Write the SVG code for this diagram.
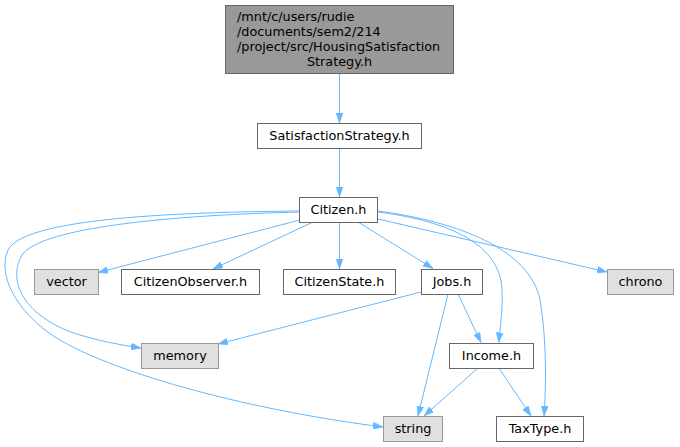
<svg xmlns="http://www.w3.org/2000/svg" width="680" height="447" viewBox="0 0 680 447">
<defs>
<style>
.n rect{fill:#ffffff;stroke:#666666;stroke-width:1}
.n.g rect{fill:#e0e0e0;stroke:#999999}
.n.top rect{fill:#999999;stroke:#666666}
text{font-family:"DejaVu Sans","Liberation Sans",sans-serif;font-size:12.8px;fill:#000000}
.c{text-anchor:middle}
#edges path{fill:none;stroke:#63b8ff;stroke-width:1;marker-end:url(#ah)}
</style>
<marker id="ah" viewBox="0 0 10 7" refX="10" refY="3.5" markerWidth="10" markerHeight="7" markerUnits="userSpaceOnUse" orient="auto">
<path d="M0,0 L10,3.5 L0,7 Z" fill="#63b8ff" stroke="#63b8ff" stroke-width="0.5"/>
</marker>
</defs>
<rect width="680" height="447" fill="#ffffff"/>
<g id="edges">
<path d="M339.5,73.5 V123"/>
<path d="M339.5,148.5 V197"/>
<path d="M300,220 L98,272.5"/>
<path d="M313,222 L213,269"/>
<path d="M339.5,222 V269"/>
<path d="M358,222 L433,268.5"/>
<path d="M378,219 L607,272"/>
<path d="M378,212 C440,220 500,240 502,290 C503,310 500,325 499,342.5"/>
<path d="M378,211 C460,222 530,250 540,300 C547,340 546,390 544,416"/>
<path d="M299,212 C220,214 45,222 22,255 C5,285 30,320 80,335 C100,341 120,345 141,348"/>
<path d="M299,211 C210,212 25,215 8,250 C-5,280 25,320 60,340 C120,375 250,410 383,427"/>
<path d="M421,292 L218,344"/>
<path d="M448,294 L418,416"/>
<path d="M458,294 L481,342.5"/>
<path d="M478,368 L424,416"/>
<path d="M499,368 L531,416"/>
</g>
<g id="node-top" class="n top">
<rect x="225.5" y="5.5" width="228" height="68"/>
<text x="237" y="21">/mnt/c/users/rudie</text>
<text x="237" y="36">/documents/sem2/214</text>
<text x="237" y="51">/project/src/HousingSatisfaction</text>
<text x="339.5" y="65.5" class="c">Strategy.h</text>
</g>
<g id="node-satisfaction" class="n">
<rect x="257.5" y="123.5" width="164" height="25"/>
<text x="339.5" y="140" class="c">SatisfactionStrategy.h</text>
</g>
<g id="node-citizen" class="n">
<rect x="299.5" y="197.5" width="78" height="25"/>
<text x="338.5" y="214" class="c">Citizen.h</text>
</g>
<g id="node-vector" class="n g">
<rect x="34.5" y="269.5" width="64" height="25"/>
<text x="66.5" y="286" class="c">vector</text>
</g>
<g id="node-observer" class="n">
<rect x="121.5" y="269.5" width="138" height="25"/>
<text x="190.5" y="286" class="c">CitizenObserver.h</text>
</g>
<g id="node-state" class="n">
<rect x="283.5" y="269.5" width="112" height="25"/>
<text x="339.5" y="286" class="c">CitizenState.h</text>
</g>
<g id="node-jobs" class="n">
<rect x="421.5" y="269.5" width="61" height="25"/>
<text x="452" y="286" class="c">Jobs.h</text>
</g>
<g id="node-chrono" class="n g">
<rect x="607.5" y="269.5" width="66" height="25"/>
<text x="640.5" y="286" class="c">chrono</text>
</g>
<g id="node-memory" class="n g">
<rect x="141.5" y="343.5" width="77" height="25"/>
<text x="180" y="360" class="c">memory</text>
</g>
<g id="node-income" class="n">
<rect x="449.5" y="343.5" width="84" height="25"/>
<text x="491.5" y="360" class="c">Income.h</text>
</g>
<g id="node-string" class="n g">
<rect x="383.5" y="416.5" width="59" height="25"/>
<text x="413" y="433" class="c">string</text>
</g>
<g id="node-taxtype" class="n">
<rect x="496.5" y="416.5" width="87" height="25"/>
<text x="540" y="433" class="c">TaxType.h</text>
</g>
</svg>
